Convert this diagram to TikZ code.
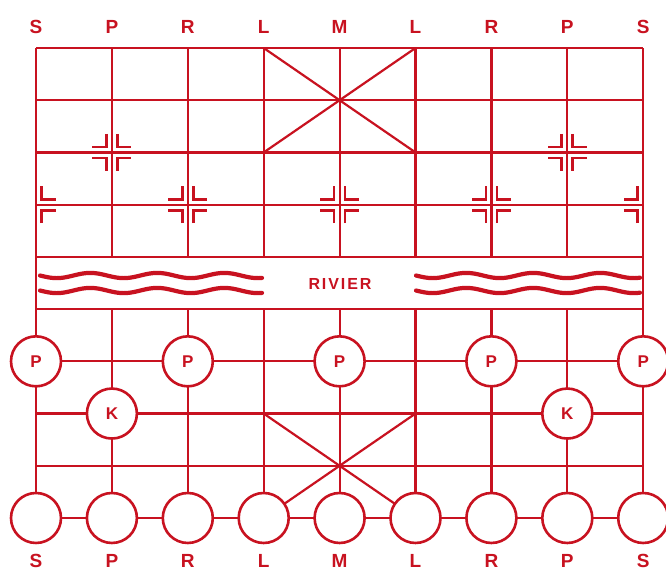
\documentclass[tikz,border=0pt]{standalone}
\usepackage{fontspec}
\setmainfont{Liberation Sans}
\newfontfamily\riverfont[LetterSpace=12]{Liberation Sans}
\definecolor{boardred}{RGB}{200,18,32}
\begin{document}
\begin{tikzpicture}[x=1pt,y=-1pt,
  gridline/.style={draw=boardred,line width=2.2pt},
  markline/.style={draw=boardred,line width=2.7pt},
  waveline/.style={draw=boardred,line width=4.2pt,line cap=round},
  piece/.style={circle,draw=boardred,line width=2.6pt,fill=white,minimum size=50pt,inner sep=0pt,text=boardred,font=\bfseries\fontsize{17}{17}\selectfont},
  lbl/.style={text=boardred,inner sep=0pt,font=\bfseries\fontsize{19}{19}\selectfont},
  rivertext/.style={text=boardred,font=\riverfont\bfseries\fontsize{16}{16}\selectfont}]
\useasboundingbox (0,0) rectangle (666,571);
\fill[white] (0,0) rectangle (666,571);
% grid points
\foreach \i in {0,...,8}
  \foreach \j in {0,...,9}
    \coordinate (g\i-\j) at ({36+75.9*\i},{48+52.22*\j});
% horizontal lines
\foreach \j in {0,...,9} \draw[gridline] (g0-\j) -- (g8-\j);
% vertical lines
\foreach \i in {0,...,8} {
  \draw[gridline] (g\i-0) -- (g\i-4);
  \draw[gridline] (g\i-5) -- (g\i-9);
}
\draw[gridline] (g0-4) -- (g0-5);
\draw[gridline] (g8-4) -- (g8-5);
% palaces
\draw[gridline] (g3-0) -- (g5-2);
\draw[gridline] (g5-0) -- (g3-2);
\draw[gridline] (g3-7) -- (g5-9);
\draw[gridline] (g5-7) -- (g3-9);
% river
\draw[waveline] plot[domain=40:262,samples=120] (\x,{275.5+2.6*sin((\x-40)/67*360)});
\draw[waveline] plot[domain=40:262,samples=120] (\x,{290.5+2.6*sin((\x-40)/67*360)});
\draw[waveline] plot[domain=416:640,samples=120] (\x,{275.5+2.6*sin((\x-416)/67*360)});
\draw[waveline] plot[domain=416:640,samples=120] (\x,{290.5+2.6*sin((\x-416)/67*360)});
\node[rivertext] (river) at (340,284) {RIVIER};
% position markers
\newcommand{\xqRight}[1]{%
  \draw[markline,shift={(#1)}] (5.5,-18.5) -- (5.5,-5.5) -- (19.5,-5.5);
  \draw[markline,shift={(#1)}] (5.5,18.5) -- (5.5,5.5) -- (19.5,5.5);}
\newcommand{\xqLeft}[1]{%
  \draw[markline,shift={(#1)}] (-5.5,-18.5) -- (-5.5,-5.5) -- (-19.5,-5.5);
  \draw[markline,shift={(#1)}] (-5.5,18.5) -- (-5.5,5.5) -- (-19.5,5.5);}
\foreach \p in {g1-2,g7-2,g2-3,g4-3,g6-3} {\xqLeft{\p}\xqRight{\p}}
\xqRight{g0-3}
\xqLeft{g8-3}
% pieces
\foreach \i in {0,2,4,6,8} \node[piece] (pawn\i) at (g\i-6) {P};
\node[piece] (k1) at (g1-7) {K};
\node[piece] (k7) at (g7-7) {K};
\foreach \i in {0,...,8} \node[piece] (back\i) at (g\i-9) {};
% labels
\foreach \l [count=\i from 0] in {S,P,R,L,M,L,R,P,S} {
  \node[lbl] (top\i) at ([yshift=21pt]g\i-0) {\l};
  \node[lbl] (bot\i) at ([yshift=-43pt]g\i-9) {\l};
}
\end{tikzpicture}
\end{document}
